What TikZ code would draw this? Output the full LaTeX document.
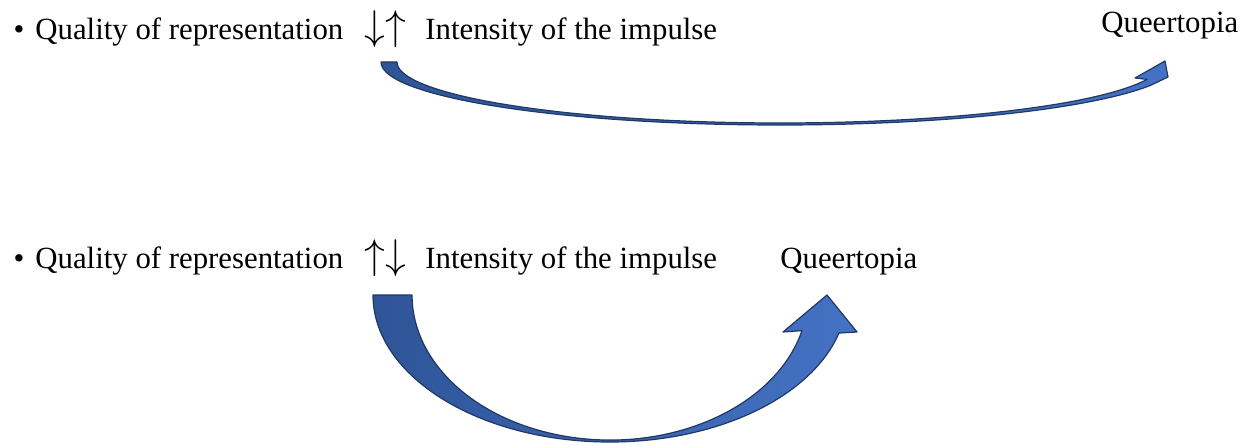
\documentclass[tikz,border=0pt]{standalone}
\usepackage{fontspec}
\setmainfont{Liberation Serif}
\usepackage{tikz}
\definecolor{arrowdark}{HTML}{2F5597}
\definecolor{arrowlight}{HTML}{4472C4}
\definecolor{arrowline}{HTML}{1F3864}
\tikzset{
  txt/.style={anchor=base west,inner sep=0pt,font=\fontsize{15.4}{18}\selectfont},
  arr/.style={anchor=base west,inner sep=0pt,font=\fontsize{22}{24}\selectfont},
  blockarrow/.style={draw=arrowline,line width=0.6pt,line join=round,
    left color=arrowdark,right color=arrowlight}
}
\begin{document}
\begin{tikzpicture}[x=0.5pt,y=0.5pt]
  \useasboundingbox (0,0) rectangle (1259,-445);
  % first line
  \node[txt,anchor=base] (dotA) at (19,-39) {•};
  \node[txt] (qualA) at (35,-39) {Quality of representation};
  \node[arr] (arrA) at (364,-39) {$\downarrow\uparrow$};
  \node[txt] (intA) at (425,-39) {Intensity of the impulse};
  \node[txt] (queerA) at (1101,-32) {Queertopia};
  \draw[blockarrow] (381,-62) arc[start angle=180,end angle=338,x radius=399,y radius=63]
    -- (1168,-77) -- (1165,-61) -- (1135,-78) -- (1147,-79.4)
    arc[start angle=343.4,end angle=180,x radius=383,y radius=61] -- cycle;
  % second line
  \node[txt,anchor=base] (dotB) at (19,-268) {•};
  \node[txt] (qualB) at (35,-268) {Quality of representation};
  \node[arr] (arrB) at (364,-268) {$\uparrow\downarrow$};
  \node[txt] (intB) at (425,-268) {Intensity of the impulse};
  \node[txt] (queerB) at (780,-268) {Queertopia};
  \draw[blockarrow] (373,-295) arc[start angle=180,end angle=345,x radius=237,y radius=147]
    -- (857,-332) -- (827,-295) -- (783,-332) -- (802,-330.6)
    arc[start angle=345.8,end angle=180,x radius=198,y radius=145] -- cycle;
\end{tikzpicture}
\end{document}
